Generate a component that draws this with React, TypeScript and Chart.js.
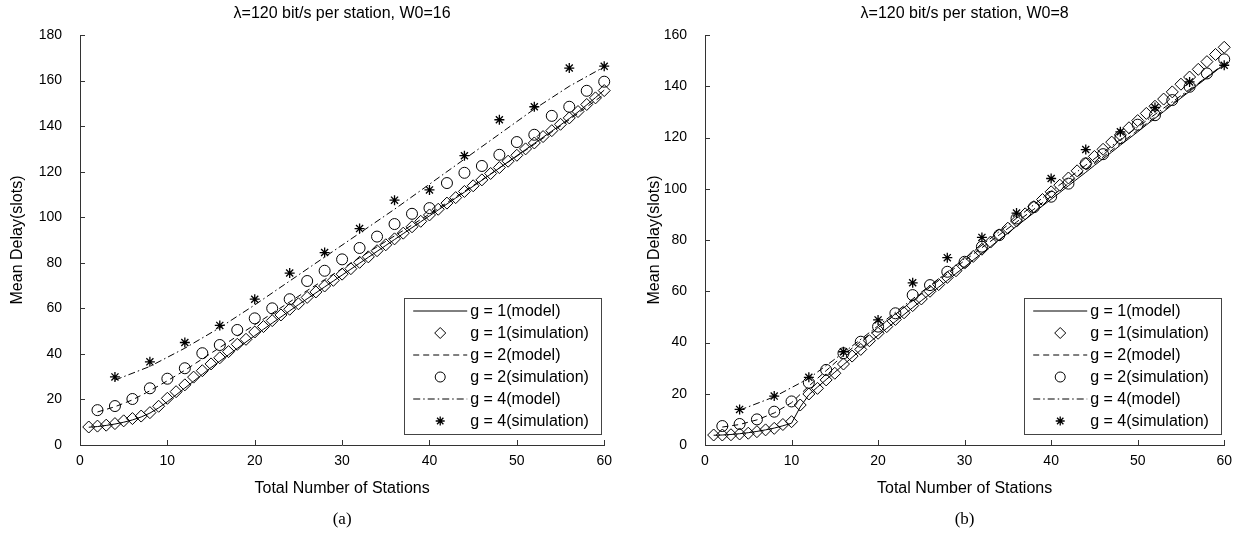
import React, { useEffect, useRef } from "react";
import { Chart, registerables } from "chart.js";

Chart.register(...registerables);

const FONT = "'Liberation Sans', Arial, Helvetica, sans-serif";
const SERIF = "'Liberation Serif', 'Times New Roman', serif";
const AXIS_COLOR = "#333";

// ---------- categories / tick labels ----------
const stationsAll = [
  1, 2, 3, 4, 5, 6, 7, 8, 9, 10, 11, 12, 13, 14, 15, 16, 17, 18, 19, 20,
  21, 22, 23, 24, 25, 26, 27, 28, 29, 30, 31, 32, 33, 34, 35, 36, 37, 38, 39, 40,
  41, 42, 43, 44, 45, 46, 47, 48, 49, 50, 51, 52, 53, 54, 55, 56, 57, 58, 59, 60,
];
const stationsEven = [
  2, 4, 6, 8, 10, 12, 14, 16, 18, 20, 22, 24, 26, 28, 30,
  32, 34, 36, 38, 40, 42, 44, 46, 48, 50, 52, 54, 56, 58, 60,
];
const stationsQuad = [4, 8, 12, 16, 20, 24, 28, 32, 36, 40, 44, 48, 52, 56, 60];

const xMax = 60;
const xStep = 10;
const leftYMax = 180;
const rightYMax = 160;
const yStep = 20;

const leftTitle = "λ=120 bit/s per station, W0=16";
const rightTitle = "λ=120 bit/s per station, W0=8";
const xAxisTitle = "Total Number of Stations";
const yAxisTitle = "Mean Delay(slots)";
const leftCaption = "(a)";
const rightCaption = "(b)";
const legendLabels = [
  "g = 1(model)",
  "g = 1(simulation)",
  "g = 2(model)",
  "g = 2(simulation)",
  "g = 4(model)",
  "g = 4(simulation)",
];

// ---------- left panel (W0 = 16) ----------
const leftG1Model = [
  7.8, 8.1, 8.6, 9.2, 10.0, 11.0, 12.3, 14.0, 16.3, 19.0,
  22.0, 25.0, 28.0, 31.0, 34.0, 36.8, 39.6, 42.4, 45.2, 48.0,
  50.8, 53.5, 56.2, 58.9, 61.6, 64.2, 66.8, 69.4, 72.0, 74.6,
  77.2, 79.8, 82.4, 85.0, 87.6, 90.2, 92.8, 95.4, 98.0, 100.6,
  103.2, 105.8, 108.4, 111.0, 113.6, 116.2, 118.9, 121.6, 124.3, 127.0,
  129.7, 132.4, 135.1, 137.8, 140.5, 143.3, 146.2, 149.3, 152.5, 155.8,
];
const leftG1Sim = [
  7.9, 8.3, 8.7, 9.4, 10.6, 11.6, 12.7, 14.2, 17.0, 20.5,
  23.4, 26.4, 29.8, 32.6, 35.6, 38.3, 41.0, 44.2, 46.4, 49.6,
  52.0, 54.6, 57.1, 59.6, 62.0, 64.8, 67.2, 69.8, 72.3, 75.0,
  77.4, 80.2, 82.6, 85.3, 87.9, 90.5, 93.0, 95.8, 98.2, 101.0,
  103.5, 106.2, 108.6, 111.3, 113.8, 116.4, 119.2, 121.8, 124.6, 127.2,
  130.0, 132.6, 135.4, 138.0, 140.8, 143.6, 146.4, 149.5, 152.4, 155.6,
];
const leftG2Model = [
  14.5, 16.8, 19.8, 23.8, 28.2, 32.8, 37.8, 42.8, 47.8, 52.8,
  57.8, 62.8, 67.8, 72.6, 77.4, 82.2, 87.0, 91.8, 96.6, 101.4,
  106.4, 111.4, 116.4, 121.6, 126.8, 132.0, 137.4, 142.8, 148.4, 154.0,
];
const leftG2Sim = [
  15.3, 17.1, 20.2, 24.9, 29.1, 33.7, 40.3, 43.9, 50.5, 55.6,
  60.0, 64.0, 72.0, 76.5, 81.5, 86.5, 91.5, 97.0, 101.5, 104.0,
  115.0, 119.5, 122.5, 127.4, 133.0, 136.2, 144.5, 148.5, 155.5, 159.5,
];
const leftG4Model = [
  28.5, 34.5, 42.5, 51.5, 61.5, 72.0, 82.5, 93.0, 103.5, 114.5,
  125.5, 136.5, 147.5, 157.5, 166.0,
];
const leftG4Sim = [
  29.9, 36.5, 45.0, 52.5, 64.0, 75.5, 84.5, 95.0, 107.5, 112.0,
  127.0, 142.8, 148.5, 165.5, 166.3,
];

// ---------- right panel (W0 = 8) ----------
const rightG1Model = [
  3.8, 3.9, 4.1, 4.4, 4.8, 5.3, 5.9, 6.6, 7.5, 8.5,
  14.8, 19.6, 22.6, 25.5, 28.4, 31.3, 34.2, 37.1, 40.0, 42.8,
  45.5, 48.2, 50.9, 53.6, 56.3, 58.9, 61.6, 64.2, 66.9, 69.5,
  72.2, 74.8, 77.4, 80.1, 82.7, 85.4, 88.0, 90.6, 93.3, 95.9,
  98.5, 101.2, 103.8, 106.4, 109.1, 111.7, 114.3, 117.0, 119.6, 122.2,
  124.9, 127.5, 130.1, 132.8, 135.4, 138.0, 140.7, 143.3, 145.9, 148.6,
];
const rightG1Sim = [
  3.9, 3.9, 4.0, 4.3, 4.6, 5.2, 5.9, 6.5, 8.0, 9.1,
  15.6, 19.9, 22.1, 25.4, 28.0, 31.6, 34.7, 37.3, 40.7, 43.6,
  46.2, 49.0, 51.6, 54.4, 57.0, 60.0, 62.6, 65.4, 68.0, 71.0,
  73.6, 76.4, 79.2, 82.0, 84.6, 87.4, 90.2, 93.0, 95.8, 98.8,
  101.4, 104.2, 107.0, 109.8, 112.6, 115.4, 118.2, 121.0, 123.8, 126.6,
  129.4, 132.2, 135.0, 137.8, 140.8, 143.6, 146.6, 149.6, 152.4, 155.2,
];
const rightG2Model = [
  7.0, 8.0, 9.8, 12.5, 16.5, 23.0, 29.0, 35.0, 40.5, 45.8,
  51.0, 56.3, 61.6, 66.8, 72.0, 77.0, 82.0, 87.0, 92.0, 97.0,
  102.0, 107.2, 112.4, 117.6, 122.8, 128.0, 133.2, 138.4, 143.6, 148.8,
];
const rightG2Sim = [
  7.4, 8.2, 10.0, 13.0, 17.0, 24.3, 29.3, 35.8, 40.3, 46.2,
  51.4, 58.5, 62.4, 67.6, 71.5, 77.4, 81.9, 88.4, 92.8, 96.9,
  102.0, 109.9, 113.5, 119.8, 125.0, 128.7, 134.6, 139.8, 145.0, 150.5,
];
const rightG4Model = [
  13.6, 18.8, 26.0, 36.0, 46.5, 57.0, 67.5, 78.0, 88.5, 99.0,
  109.2, 119.2, 129.0, 138.8, 148.4,
];
const rightG4Sim = [
  13.9, 19.1, 26.4, 36.4, 48.8, 63.3, 73.1, 81.0, 90.5, 104.0,
  115.3, 122.2, 131.7, 141.7, 148.2,
];

// ---------- styles ----------
const DASH = [6, 4];
const DASHDOT = [7, 3, 1.5, 3];
const DIAMOND_R = 6;
const CIRCLE_R = 5.5;
const STAR_R = 5;

type Pt = { x: number; y: number };
const pts = (xs: number[], ys: number[]): Pt[] => xs.map((x, i) => ({ x, y: ys[i] }));

type LegendKind =
  | { kind: "line"; dash: number[] }
  | { kind: "point"; style: "rectRot" | "circle" | "star"; radius: number; width: number };

const legendStyles: LegendKind[] = [
  { kind: "line", dash: [] },
  { kind: "point", style: "rectRot", radius: 5.5, width: 1 },
  { kind: "line", dash: DASH },
  { kind: "point", style: "circle", radius: 5, width: 1 },
  { kind: "line", dash: DASHDOT },
  { kind: "point", style: "star", radius: 4.5, width: 1.3 },
];

function drawMarker(
  ctx: CanvasRenderingContext2D,
  style: string,
  x: number,
  y: number,
  r: number,
  lw: number
) {
  ctx.lineWidth = lw;
  ctx.beginPath();
  if (style === "circle") {
    ctx.arc(x, y, r, 0, Math.PI * 2);
  } else if (style === "rectRot") {
    ctx.moveTo(x - r, y);
    ctx.lineTo(x, y - r);
    ctx.lineTo(x + r, y);
    ctx.lineTo(x, y + r);
    ctx.closePath();
  } else {
    for (let k = 0; k < 4; k++) {
      const a = (k * Math.PI) / 4;
      ctx.moveTo(x - Math.cos(a) * r, y - Math.sin(a) * r);
      ctx.lineTo(x + Math.cos(a) * r, y + Math.sin(a) * r);
    }
  }
  ctx.stroke();
  ctx.lineWidth = 1;
}

const innerTicks = {
  id: "innerTicks",
  afterDatasetsDraw(chart: any) {
    const { ctx, chartArea, scales } = chart;
    ctx.save();
    ctx.strokeStyle = AXIS_COLOR;
    ctx.lineWidth = 1;
    ctx.beginPath();
    scales.x.ticks.forEach((t: any) => {
      const px = Math.round(scales.x.getPixelForValue(t.value)) + 0.5;
      ctx.moveTo(px, chartArea.bottom);
      ctx.lineTo(px, chartArea.bottom - 5);
    });
    scales.y.ticks.forEach((t: any) => {
      const py = Math.round(scales.y.getPixelForValue(t.value)) + 0.5;
      ctx.moveTo(chartArea.left, py);
      ctx.lineTo(chartArea.left + 5, py);
    });
    ctx.stroke();
    ctx.restore();
  },
};

const panelDecor = {
  id: "panelDecor",
  afterDraw(chart: any, _args: any, opts: any) {
    const { ctx, chartArea } = chart;
    const cx = (chartArea.left + chartArea.right) / 2;
    ctx.save();
    ctx.fillStyle = "#000";
    ctx.textAlign = "center";
    ctx.textBaseline = "middle";
    ctx.font = `16px ${FONT}`;
    ctx.fillText(opts.title, cx, 14);
    ctx.font = `17px ${SERIF}`;
    ctx.fillText(opts.caption, cx, 520);

    // legend
    const w = 197;
    const h = 136;
    const right = chartArea.right - 3;
    const bottom = chartArea.bottom - 11;
    const left = right - w;
    const top = bottom - h;
    ctx.fillStyle = "#fff";
    ctx.fillRect(left, top, w, h);
    ctx.strokeStyle = "#444";
    ctx.lineWidth = 1;
    ctx.strokeRect(Math.round(left) + 0.5, Math.round(top) + 0.5, w, h);
    ctx.font = `16px ${FONT}`;
    ctx.textAlign = "left";
    ctx.strokeStyle = "#000";
    legendLabels.forEach((label, i) => {
      const y = top + 13 + i * 22;
      const st = legendStyles[i];
      if (st.kind === "line") {
        ctx.setLineDash(st.dash);
        ctx.beginPath();
        ctx.moveTo(left + 9, y);
        ctx.lineTo(left + 63, y);
        ctx.stroke();
        ctx.setLineDash([]);
      } else {
        drawMarker(ctx, st.style, left + 36, y, st.radius, st.width);
      }
      ctx.fillStyle = "#000";
      ctx.fillText(label, left + 66, y + 1);
    });
    ctx.restore();
  },
};

type PanelProps = {
  title: string;
  caption: string;
  yMax: number;
  g1Model: number[];
  g1Sim: number[];
  g2Model: number[];
  g2Sim: number[];
  g4Model: number[];
  g4Sim: number[];
  areaLeft: number;
  areaRight: number;
  yTitleOffset: number;
  left: number;
};

function Panel(p: PanelProps) {
  const ref = useRef<HTMLCanvasElement | null>(null);
  useEffect(() => {
    if (!ref.current) return;
    const lineDs = (label: string, data: Pt[], dash: number[]) => ({
      label,
      data,
      showLine: true,
      borderColor: "#000",
      borderWidth: 1,
      borderDash: dash,
      pointRadius: 0,
      fill: false,
      clip: false as any,
    });
    const ptDs = (label: string, data: Pt[], style: string, r: number, bw: number) => ({
      label,
      data,
      showLine: false,
      borderColor: "#000",
      backgroundColor: "rgba(0,0,0,0)",
      pointStyle: style,
      pointRadius: r,
      pointBorderWidth: bw,
      pointBorderColor: "#000",
      pointBackgroundColor: "rgba(0,0,0,0)",
      clip: false as any,
    });
    const chart = new Chart(ref.current, {
      type: "scatter",
      data: {
        datasets: [
          lineDs(legendLabels[0], pts(stationsAll, p.g1Model), []),
          ptDs(legendLabels[1], pts(stationsAll, p.g1Sim), "rectRot", DIAMOND_R, 1),
          lineDs(legendLabels[2], pts(stationsEven, p.g2Model), DASH),
          ptDs(legendLabels[3], pts(stationsEven, p.g2Sim), "circle", CIRCLE_R, 1),
          lineDs(legendLabels[4], pts(stationsQuad, p.g4Model), DASHDOT),
          ptDs(legendLabels[5], pts(stationsQuad, p.g4Sim), "star", STAR_R, 1.3),
        ] as any,
      },
      options: {
        animation: false,
        responsive: false,
        devicePixelRatio: 1,
        layout: { padding: { left: 0, right: 620 - p.areaRight, top: 35, bottom: 0 } },
        plugins: {
          legend: { display: false },
          tooltip: { enabled: false },
          title: { display: false },
          panelDecor: { title: p.title, caption: p.caption },
        } as any,
        scales: {
          x: {
            type: "linear",
            min: 0,
            max: xMax,
            afterFit: (s: any) => {
              s.height = 533 - 445;
            },
            ticks: {
              stepSize: xStep,
              color: "#000",
              font: { family: FONT, size: 14 },
              padding: 8,
              maxRotation: 0,
            },
            grid: { display: true, drawOnChartArea: false, drawTicks: false },
            border: { display: true, color: AXIS_COLOR, width: 1 },
            title: {
              display: true,
              text: xAxisTitle,
              color: "#000",
              font: { family: FONT, size: 16 },
              padding: { top: 0, bottom: 35 },
            },
          },
          y: {
            type: "linear",
            min: 0,
            max: p.yMax,
            afterFit: (s: any) => {
              s.width = p.areaLeft;
            },
            ticks: {
              stepSize: yStep,
              color: "#000",
              font: { family: FONT, size: 14 },
              padding: 18,
            },
            grid: { display: true, drawOnChartArea: false, drawTicks: false },
            border: { display: true, color: AXIS_COLOR, width: 1 },
            title: {
              display: true,
              text: yAxisTitle,
              color: "#000",
              font: { family: FONT, size: 16 },
              padding: { top: p.yTitleOffset, bottom: 0 },
            },
          },
        },
      } as any,
      plugins: [innerTicks, panelDecor],
    });
    return () => chart.destroy();
  }, []);
  return (
    <canvas
      ref={ref}
      width={620}
      height={533}
      style={{ position: "absolute", left: p.left, top: 0, width: 620, height: 533 }}
    />
  );
}

export default function App() {
  return (
    <div
      style={{
        position: "fixed",
        left: 0,
        top: 0,
        width: 1240,
        height: 533,
        background: "#fff",
        overflow: "hidden",
      }}
    >
      <Panel
        title={leftTitle}
        caption={leftCaption}
        yMax={leftYMax}
        g1Model={leftG1Model}
        g1Sim={leftG1Sim}
        g2Model={leftG2Model}
        g2Sim={leftG2Sim}
        g4Model={leftG4Model}
        g4Sim={leftG4Sim}
        areaLeft={80}
        areaRight={606}
        yTitleOffset={8}
        left={0}
      />
      <Panel
        title={rightTitle}
        caption={rightCaption}
        yMax={rightYMax}
        g1Model={rightG1Model}
        g1Sim={rightG1Sim}
        g2Model={rightG2Model}
        g2Sim={rightG2Sim}
        g4Model={rightG4Model}
        g4Sim={rightG4Sim}
        areaLeft={85}
        areaRight={605}
        yTitleOffset={25}
        left={620}
      />
    </div>
  );
}
